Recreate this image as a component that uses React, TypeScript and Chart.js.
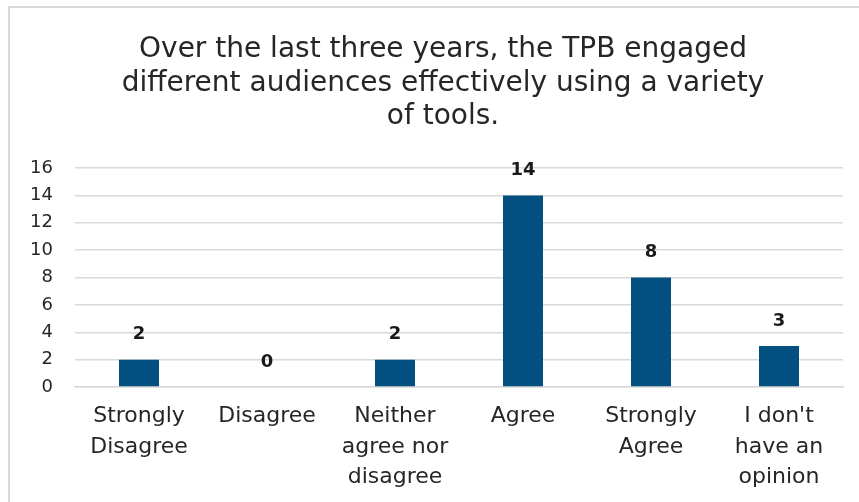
import React, { useEffect, useRef } from "react";
import { Chart, registerables } from "chart.js";

Chart.register(...registerables);

const titleLines = [
  "Over the last three years, the TPB engaged",
  "different audiences effectively using a variety",
  "of tools.",
];
const categories: string[][] = [
  ["Strongly", "Disagree"],
  ["Disagree"],
  ["Neither", "agree nor", "disagree"],
  ["Agree"],
  ["Strongly", "Agree"],
  ["I don't", "have an", "opinion"],
];
const counts = [2, 0, 2, 14, 8, 3];
const yTicks = [0, 2, 4, 6, 8, 10, 12, 14, 16];

const FONT = "'DejaVu Sans', sans-serif";

const titlePlugin = {
  id: "customTitle",
  afterDraw(chart: any) {
    const ctx = chart.ctx;
    ctx.save();
    ctx.font = `28px ${FONT}`;
    ctx.fillStyle = "#262626";
    ctx.textAlign = "center";
    ctx.textBaseline = "middle";
    titleLines.forEach((line, i) => {
      ctx.fillText(line, 443, 50 + i * 33.5);
    });
    ctx.restore();
  },
};

const valueLabels = {
  id: "valueLabels",
  afterDatasetsDraw(chart: any) {
    const ctx = chart.ctx;
    const meta = chart.getDatasetMeta(0);
    ctx.save();
    ctx.font = `bold 18px ${FONT}`;
    ctx.fillStyle = "#1a1a1a";
    ctx.textAlign = "center";
    ctx.textBaseline = "middle";
    meta.data.forEach((bar: any, i: number) => {
      ctx.fillText(String(counts[i]), bar.x, bar.y - 25);
    });
    ctx.restore();
  },
};

export default function App() {
  const ref = useRef<HTMLCanvasElement>(null);
  useEffect(() => {
    document.body.style.margin = "0";
    const chart = new Chart(ref.current!, {
      type: "bar",
      data: {
        labels: categories,
        datasets: [
          {
            data: counts,
            backgroundColor: "#02507f",
            borderWidth: 0,
            barPercentage: 0.625,
            categoryPercentage: 0.5,
          },
        ],
      },
      options: {
        responsive: false,
        animation: false,
        layout: { padding: { left: 0, right: 16, top: 168, bottom: 0 } },
        plugins: {
          legend: { display: false },
          tooltip: { enabled: false },
          title: { display: false },
        },
        scales: {
          x: {
            grid: { display: false, drawTicks: false },
            border: { display: true, color: "#d9d9d9", width: 1.5 },
            ticks: {
              color: "#262626",
              font: { family: FONT, size: 22, lineHeight: 1.39 },
              padding: 14,
              maxRotation: 0,
              autoSkip: false,
            },
            afterFit(scale: any) {
              scale.height = 115;
            },
          },
          y: {
            min: 0,
            max: 16,
            afterBuildTicks(scale: any) {
              scale.ticks = yTicks.map((v) => ({ value: v }));
            },
            grid: { color: "#d9d9d9", lineWidth: 1.5, drawTicks: false },
            border: { display: false },
            ticks: {
              color: "#262626",
              font: { family: FONT, size: 18 },
              padding: 22,
            },
            afterFit(scale: any) {
              scale.width = 75;
            },
          },
        },
      },
      plugins: [titlePlugin, valueLabels],
    });
    return () => chart.destroy();
  }, []);
  return (
    <div style={{ position: "relative", width: 859, height: 502 }}>
      <canvas ref={ref} width={859} height={502} style={{ display: "block" }} />
      <div
        style={{
          position: "absolute",
          left: 8,
          top: 6,
          right: -10,
          bottom: -10,
          borderLeft: "2px solid #d9d9d9",
          borderTop: "2px solid #d9d9d9",
          pointerEvents: "none",
        }}
      />
    </div>
  );
}
